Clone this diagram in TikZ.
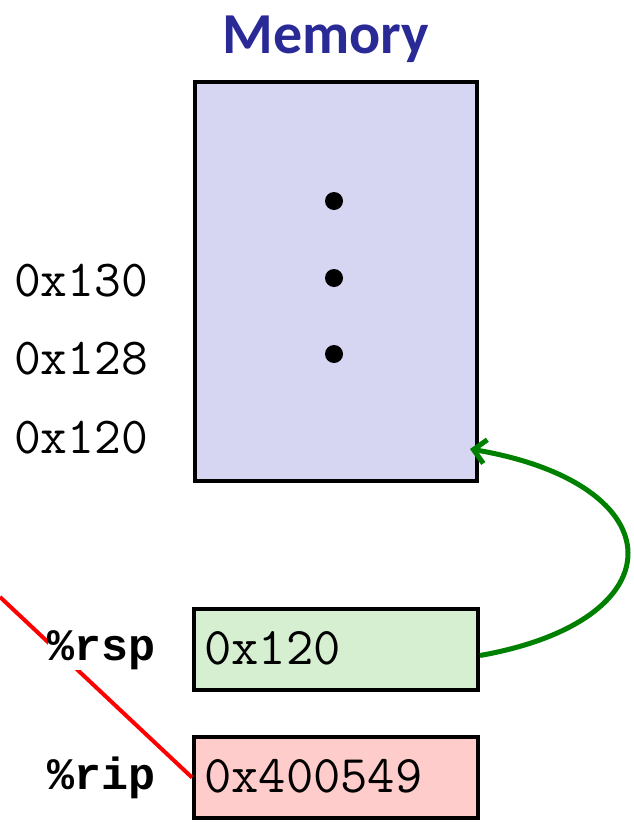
\documentclass[tikz,border=0pt]{standalone}
\usepackage{fontspec}
\setmainfont{Carlito}
\newfontfamily\monofont{Liberation Mono}
\usetikzlibrary{arrows.meta}
\definecolor{memblue}{RGB}{42,42,150}
\definecolor{memfill}{RGB}{214,214,243}
\definecolor{rspfill}{RGB}{213,239,208}
\definecolor{ripfill}{RGB}{255,204,204}
\definecolor{arrgreen}{RGB}{0,128,0}
\tikzset{
  box/.style={draw=black, line width=4pt, inner sep=0pt, anchor=north west},
  addr/.style={font=\ttfamily\fontsize{52}{56}\selectfont, anchor=west, inner sep=0pt},
  reglbl/.style={font=\monofont\bfseries\fontsize{45}{50}\selectfont, anchor=east, inner sep=2pt},
  val/.style={font=\ttfamily\fontsize{53}{56}\selectfont, anchor=west, inner sep=0pt},
  memdot/.style={circle, fill=black, inner sep=0pt, minimum size=18pt}
}
\begin{document}
\begin{tikzpicture}[x=1pt,y=-1pt]
\useasboundingbox (0,0) rectangle (634,822);
% title
\node[font=\bfseries\fontsize{58}{60}\selectfont, text=memblue, inner sep=0pt] (title) at (326,39) {Memory};
% memory block
\node[box, fill=memfill, minimum width=282pt, minimum height=399pt] (mem) at (193,80) {};
\node[memdot] (d1) at (334,201) {};
\node[memdot] (d2) at (334,278) {};
\node[memdot] (d3) at (334,354) {};
% addresses
\node[addr] (a130) at (14,281) {0x130};
\node[addr] (a128) at (14,359) {0x128};
\node[addr] (a120) at (14,438) {0x120};
% registers
\node[box, fill=rspfill, minimum width=284pt, minimum height=81pt] (rsp) at (192,607) {};
\node[box, fill=ripfill, minimum width=284pt, minimum height=81pt] (rip) at (192,735) {};
\node[val] (rspv) at (204,648) {0x120};
\node[val] (ripv) at (204,776) {0x400549};
% red line
\coordinate (redstart) at (0,597);
\draw[red, line width=4pt] (redstart) -- (rip.west);
\node[reglbl, fill=white, inner sep=0pt] (rsplbl) at (156,650) {\%rsp};
\node[reglbl] (riplbl) at (158,778) {\%rip};
% green arrow
\coordinate (arrend) at (470,449);
\draw[arrgreen, line width=5pt, -{Straight Barb[length=12pt, width=24pt, line width=5pt]}]
  (rsp.east) ++(0,6) .. controls (680,620) and (676,484) .. (arrend);
\end{tikzpicture}
\end{document}
